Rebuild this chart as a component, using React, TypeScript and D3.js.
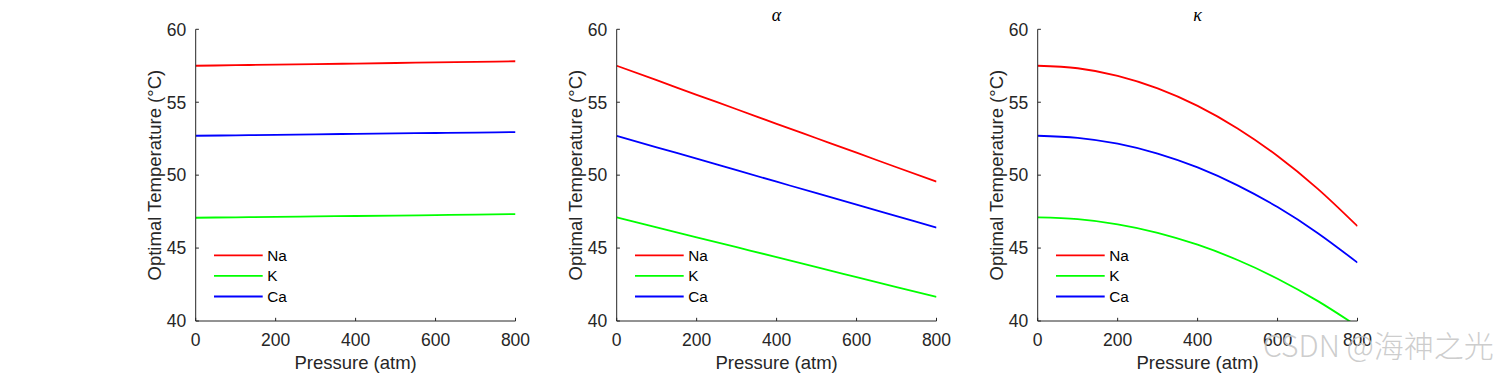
import React from "react";
import * as d3 from "d3";

// ---------- data ----------
const pressure = [0, 100, 200, 300, 400, 500, 600, 700, 800];
const seriesNames = ["Na", "K", "Ca"];
const seriesColors = ["#ff0000", "#00ff00", "#0000ff"];
const panelTitles = ["", "\u03b1", "\u03ba"];
const xTicks = [0, 200, 400, 600, 800];
const yTicks = [40, 45, 50, 55, 60];

// panel 1 (no effect)
const base_Na = [57.5, 57.54, 57.58, 57.61, 57.65, 57.69, 57.73, 57.77, 57.81];
const base_K = [47.08, 47.11, 47.14, 47.17, 47.2, 47.23, 47.26, 47.29, 47.33];
const base_Ca = [52.7, 52.73, 52.76, 52.8, 52.83, 52.86, 52.89, 52.92, 52.95];
// panel 2 (alpha)
const alpha_Na = [57.5, 56.51, 55.51, 54.52, 53.52, 52.53, 51.54, 50.54, 49.55];
const alpha_K = [47.1, 46.42, 45.74, 45.06, 44.38, 43.69, 43.01, 42.33, 41.65];
const alpha_Ca = [52.7, 51.91, 51.13, 50.34, 49.55, 48.76, 47.98, 47.19, 46.4];
// panel 3 (kappa)
const kappa_Na = [57.5, 57.33, 56.81, 55.95, 54.75, 53.2, 51.31, 49.08, 46.5];
const kappa_K = [47.1, 46.98, 46.63, 46.05, 45.23, 44.18, 42.9, 41.38, 39.63];
const kappa_Ca = [52.7, 52.56, 52.16, 51.48, 50.53, 49.3, 47.81, 46.04, 44.0];

const panels = [
  [base_Na, base_K, base_Ca],
  [alpha_Na, alpha_K, alpha_Ca],
  [kappa_Na, kappa_K, kappa_Ca],
];

// ---------- layout ----------
const W = 1500;
const H = 375;
const panelLefts = [195.7, 616.7, 1037.7];
const plotW = 319.8;
const plotTop = 29.3;
const plotBottom = 321;
const axisColor = "#262626";
const font = "'Liberation Sans', Arial, Helvetica, sans-serif";

function Panel({ idx }: { idx: number }) {
  const left = panelLefts[idx];
  const x = d3.scaleLinear().domain([0, 800]).range([left, left + plotW]);
  const y = d3.scaleLinear().domain([40, 60]).range([plotBottom, plotTop]);
  const line = d3
    .line<number>()
    .x((_, i) => x(pressure[i]))
    .y((d) => y(d))
    .curve(d3.curveMonotoneX);
  const clipId = `clip${idx}`;
  const data = panels[idx];
  const legX0 = left + 18.3;
  const legX1 = left + 67;
  const legY = [255.3, 275.8, 296.5];
  return (
    <g>
      <defs>
        <clipPath id={clipId}>
          <rect x={left} y={plotTop} width={plotW} height={plotBottom - plotTop} />
        </clipPath>
      </defs>
      <g clipPath={`url(#${clipId})`}>
        {data.map((s, i) => (
          <path
            key={i}
            d={line(s) || ""}
            fill="none"
            stroke={seriesColors[i]}
            strokeWidth={1.8}
          />
        ))}
      </g>
      <line x1={left} x2={left + plotW} y1={plotBottom} y2={plotBottom} stroke={axisColor} strokeWidth={1} />
      <line x1={left} x2={left} y1={plotTop} y2={plotBottom} stroke={axisColor} strokeWidth={1} />
      {xTicks.map((t) => (
        <g key={"x" + t}>
          <line x1={x(t)} x2={x(t)} y1={plotBottom} y2={plotBottom - 3.2} stroke={axisColor} strokeWidth={1} />
          <text x={x(t)} y={346} textAnchor="middle" fontFamily={font} fontSize={17.5} fill={axisColor}>
            {t}
          </text>
        </g>
      ))}
      {yTicks.map((t) => (
        <g key={"y" + t}>
          <line x1={left} x2={left + 3.2} y1={y(t)} y2={y(t)} stroke={axisColor} strokeWidth={1} />
          <text x={left - 9.5} y={y(t)} dy="0.36em" textAnchor="end" fontFamily={font} fontSize={17.5} fill={axisColor}>
            {t}
          </text>
        </g>
      ))}
      <text x={left + plotW / 2} y={368.6} textAnchor="middle" fontFamily={font} fontSize={18.5} fill={axisColor}>
        Pressure (atm)
      </text>
      <text
        transform={`translate(${left - 41},${(plotTop + plotBottom) / 2}) rotate(-90)`}
        dy="0.35em"
        textAnchor="middle"
        fontFamily={font}
        fontSize={18.5}
        fill={axisColor}
      >
        Optimal Temperature (°C)
      </text>
      {panelTitles[idx] && (
        <text
          x={left + plotW / 2}
          y={20.5}
          textAnchor="middle"
          fontFamily="'Liberation Serif', 'DejaVu Serif', serif"
          fontStyle="italic"
          fontSize={18}
          fill="#000"
        >
          {panelTitles[idx]}
        </text>
      )}
      {seriesNames.map((n, i) => (
        <g key={n}>
          <line x1={legX0} x2={legX1} y1={legY[i]} y2={legY[i]} stroke={seriesColors[i]} strokeWidth={1.8} />
          <text x={legX1 + 4.5} y={legY[i]} dy="0.36em" fontFamily={font} fontSize={15.3} fill="#000">
            {n}
          </text>
        </g>
      ))}
    </g>
  );
}

export default function App() {
  return (
    <svg
      width={W}
      height={H}
      viewBox={`0 0 ${W} ${H}`}
      style={{ position: "absolute", left: 0, top: 0, background: "#fff" }}
    >
      <rect x={0} y={0} width={W} height={H} fill="#fff" />
      {panels.map((_, i) => (
        <Panel key={i} idx={i} />
      ))}
      <text
        x={1263}
        y={357}
        fontFamily="'Noto Sans CJK SC', 'Noto Sans', sans-serif"
        fontSize={30}
        fontWeight={300}
        fill="#c4c4c4"
        fillOpacity={0.85}
      >
        CSDN @海神之光
      </text>
    </svg>
  );
}
